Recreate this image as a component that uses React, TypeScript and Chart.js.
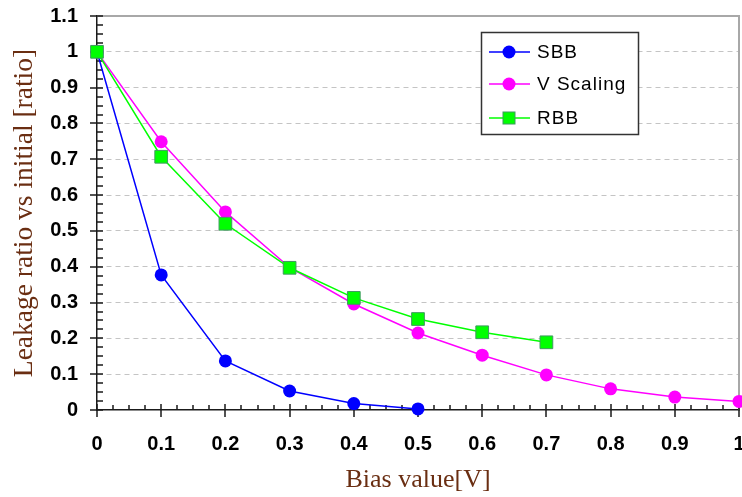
import React, { useEffect, useRef } from 'react';
import { Chart, registerables } from 'chart.js';

Chart.register(...registerables);

// ---- data ----
const biasValues = [0, 0.1, 0.2, 0.3, 0.4, 0.5, 0.6, 0.7, 0.8, 0.9, 1.0];
const sbbValues = [1, 0.377, 0.137, 0.053, 0.018, 0.003];
const vScalingValues = [1, 0.749, 0.553, 0.398, 0.296, 0.215, 0.153, 0.098, 0.059, 0.036, 0.024];
const rbbValues = [1, 0.707, 0.52, 0.397, 0.313, 0.254, 0.217, 0.189];
const seriesNames = ['SBB', 'V Scaling', 'RBB'];
const xTitle = 'Bias value[V]';
const yTitle = 'Leakage ratio vs initial [ratio]';
const xMin = 0;
const xMax = 1;
const yMin = 0;
const yMax = 1.1;
const tickStep = 0.1;
const minorDivisions = 4;

const toPoints = (values: number[]) => values.map((v, i) => ({ x: biasValues[i], y: v }));
const fmt = (v: number) => String(Math.round(v * 10) / 10);

const tickFrame = {
  id: 'tickFrame',
  beforeDatasetsDraw(chart: any) {
    const { ctx, chartArea: a } = chart;
    const xs = chart.scales.x;
    const ys = chart.scales.y;
    ctx.save();
    ctx.strokeStyle = '#a8a8a8';
    ctx.lineWidth = 2;
    ctx.beginPath();
    ctx.moveTo(a.left, a.top);
    ctx.lineTo(a.right, a.top);
    ctx.lineTo(a.right, a.bottom);
    ctx.stroke();

    ctx.strokeStyle = '#1a1a1a';
    ctx.lineWidth = 1.5;
    ctx.beginPath();
    const nx = Math.round(((xMax - xMin) / tickStep) * minorDivisions);
    for (let i = 0; i <= nx; i++) {
      const v = xMin + (i * tickStep) / minorDivisions;
      const px = Math.round(xs.getPixelForValue(v));
      if (i % minorDivisions === 0) {
        ctx.moveTo(px, a.bottom - 6);
        ctx.lineTo(px, a.bottom + 7);
      } else {
        ctx.moveTo(px, a.bottom - 5);
        ctx.lineTo(px, a.bottom);
      }
    }
    const ny = Math.round(((yMax - yMin) / tickStep) * minorDivisions);
    for (let i = 0; i <= ny; i++) {
      const v = yMin + (i * tickStep) / minorDivisions;
      const py = Math.round(ys.getPixelForValue(v));
      if (i % minorDivisions === 0) {
        ctx.moveTo(a.left - 7, py);
        ctx.lineTo(a.left + 6, py);
      } else {
        ctx.moveTo(a.left, py);
        ctx.lineTo(a.left + 6, py);
      }
    }
    ctx.stroke();
    ctx.restore();
  },
};

const boxLegend = {
  id: 'boxLegend',
  afterDraw(chart: any) {
    const { ctx } = chart;
    const bx = 481.5;
    const by = 32.5;
    const bw = 157;
    const bh = 102;
    ctx.save();
    ctx.fillStyle = '#ffffff';
    ctx.fillRect(bx, by, bw, bh);
    ctx.strokeStyle = '#333333';
    ctx.lineWidth = 1.5;
    ctx.strokeRect(bx, by, bw, bh);
    const rows = [52, 84, 118];
    chart.data.datasets.forEach((ds: any, i: number) => {
      const y = rows[i];
      ctx.strokeStyle = ds.borderColor;
      ctx.lineWidth = 1.5;
      ctx.beginPath();
      ctx.moveTo(489, y);
      ctx.lineTo(530, y);
      ctx.stroke();
      ctx.fillStyle = ds.pointBackgroundColor;
      ctx.strokeStyle = ds.pointBorderColor;
      ctx.lineWidth = 1;
      if (ds.pointStyle === 'rect') {
        ctx.fillRect(503, y - 6, 12, 12);
        ctx.strokeRect(503, y - 6, 12, 12);
      } else {
        ctx.beginPath();
        ctx.arc(509, y, 6.5, 0, Math.PI * 2);
        ctx.fill();
      }
      ctx.fillStyle = '#000';
      ctx.font = '19px "Liberation Sans", Arial, sans-serif';
      (ctx as any).letterSpacing = '1px';
      ctx.textBaseline = 'middle';
      ctx.textAlign = 'left';
      ctx.fillText(ds.label, 537, y + 1);
      (ctx as any).letterSpacing = '0px';
    });
    ctx.restore();
  },
};

export default function App() {
  const ref = useRef<HTMLCanvasElement | null>(null);
  useEffect(() => {
    if (!ref.current) return;
    const tickFont = { family: '"Liberation Sans", Arial, sans-serif', size: 20, weight: 'bold' as const };
    const serif = '"Liberation Serif", "Times New Roman", serif';
    const titleColor = '#6a2e12';
    const chart = new Chart(ref.current, {
      type: 'line',
      data: {
        datasets: [
          {
            label: seriesNames[0],
            data: toPoints(sbbValues),
            borderColor: '#0000ff',
            backgroundColor: '#0000ff',
            pointBackgroundColor: '#0000ff',
            pointBorderColor: '#0000ff',
            pointStyle: 'circle',
            pointRadius: 6.5,
            pointBorderWidth: 0,
            borderWidth: 1.5,
            clip: false,
            order: 2,
          },
          {
            label: seriesNames[1],
            data: toPoints(vScalingValues),
            borderColor: '#ff00ff',
            backgroundColor: '#ff00ff',
            pointBackgroundColor: '#ff00ff',
            pointBorderColor: '#ff00ff',
            pointStyle: 'circle',
            pointRadius: 6.5,
            pointBorderWidth: 0,
            borderWidth: 1.5,
            clip: false,
            order: 1,
          },
          {
            label: seriesNames[2],
            data: toPoints(rbbValues),
            borderColor: '#00ff00',
            backgroundColor: '#00ff00',
            pointBackgroundColor: '#00ff00',
            pointBorderColor: '#3f9a60',
            pointStyle: 'rect',
            pointRadius: 9,
            pointBorderWidth: 1,
            borderWidth: 1.5,
            clip: false,
            order: 0,
          },
        ] as any,
      },
      options: {
        responsive: false,
        animation: false,
        devicePixelRatio: 1,
        layout: { autoPadding: false, padding: { top: 16, right: 3, left: 0, bottom: 0 } },
        plugins: { legend: { display: false }, tooltip: { enabled: false } },
        scales: {
          x: {
            type: 'linear',
            min: xMin,
            max: xMax,
            grid: { display: false, drawTicks: false },
            border: { display: true, color: '#1a1a1a', width: 1.5 },
            ticks: {
              stepSize: tickStep,
              color: '#000',
              font: tickFont,
              padding: 22,
              maxRotation: 0,
              autoSkip: false,
              callback: (v: any) => fmt(Number(v)),
            },
            title: { display: true, text: xTitle, color: titleColor, font: { family: serif, size: 26 }, padding: { top: 0, bottom: 1 } },
            afterFit: (s: any) => {
              s.height = 87;
              s.paddingLeft = 0;
              s.paddingRight = 0;
            },
          },
          y: {
            type: 'linear',
            min: yMin,
            max: yMax,
            grid: {
              display: true,
              drawTicks: false,
              lineWidth: 1,
              color: (c: any) => {
                const v = c.tick ? c.tick.value : 0;
                return v > 0.05 && v < yMax - 0.05 ? '#c4c4c4' : 'rgba(0,0,0,0)';
              },
            },
            border: { display: true, color: '#1a1a1a', width: 1.5, dash: [5, 4] },
            ticks: {
              stepSize: tickStep,
              color: '#000',
              font: tickFont,
              padding: 19,
              autoSkip: false,
              callback: (v: any) => fmt(Number(v)),
            },
            title: { display: true, text: yTitle, color: titleColor, font: { family: serif, size: 27.5 }, padding: { top: 8, bottom: 0 } },
            afterFit: (s: any) => {
              s.width = 97;
              s.paddingTop = 0;
              s.paddingBottom = 0;
            },
          },
        },
      } as any,
      plugins: [tickFrame, boxLegend],
    });
    return () => chart.destroy();
  }, []);
  return (
    <div style={{ position: 'fixed', left: 0, top: 0, width: 742, height: 497, background: '#fff' }}>
      <canvas ref={ref} width={742} height={497} style={{ width: 742, height: 497 }} />
    </div>
  );
}
